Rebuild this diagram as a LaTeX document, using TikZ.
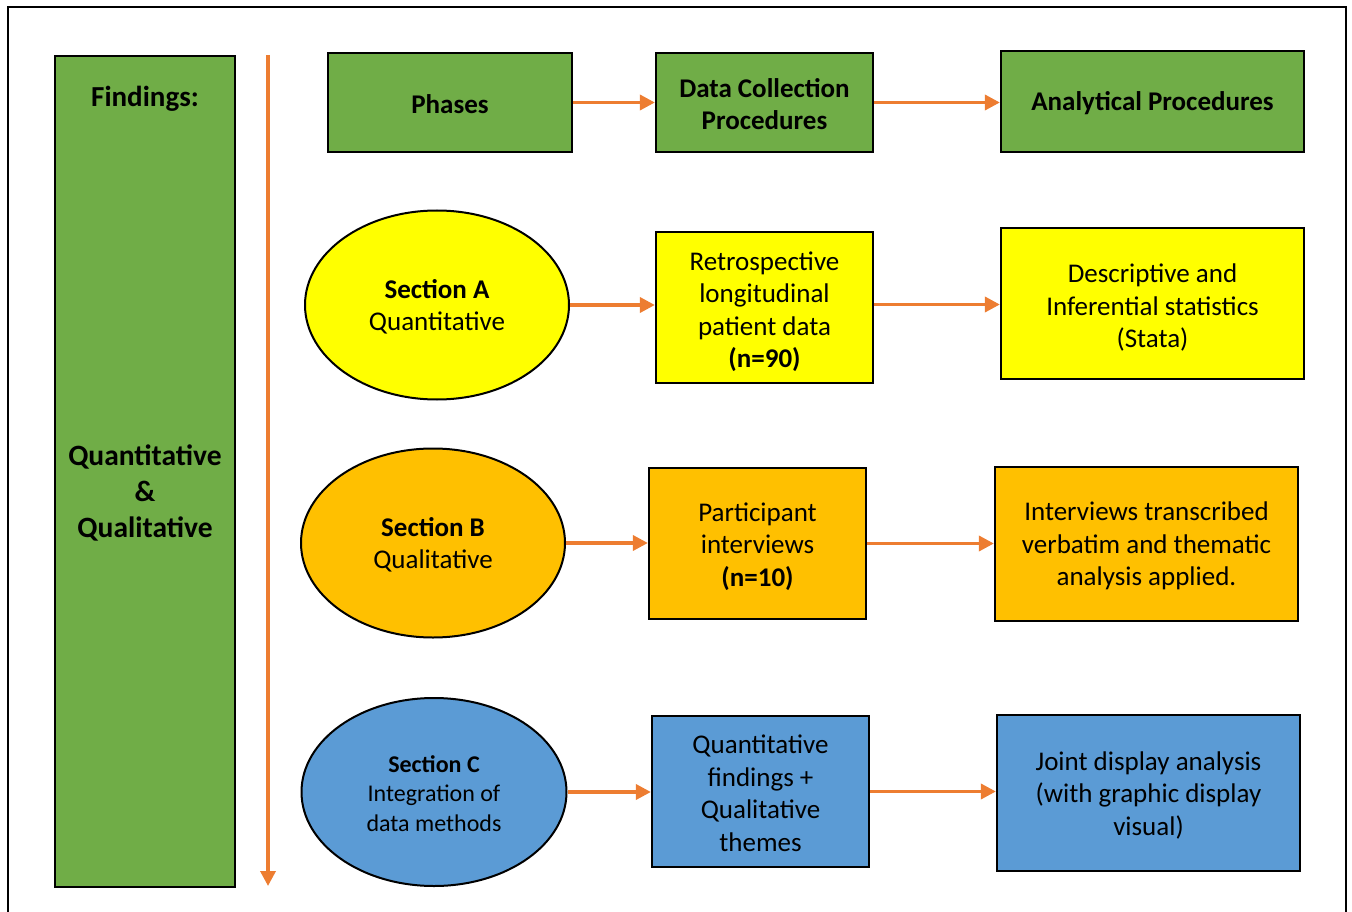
\documentclass[tikz,border=0pt]{standalone}
\usepackage{fontspec}
\setmainfont{Carlito}
\usetikzlibrary{shapes.geometric,arrows.meta}
\definecolor{cgreen}{HTML}{70AD47}
\definecolor{cyellow}{HTML}{FFFF00}
\definecolor{cgold}{HTML}{FFC000}
\definecolor{cblue}{HTML}{5B9BD5}
\definecolor{corange}{HTML}{ED7D31}
\tikzset{
  box/.style={draw=black, line width=2.2pt, inner sep=0pt},
  oval/.style={ellipse, draw=black, line width=2pt, inner sep=0pt},
  txt/.style={align=center, inner sep=0pt, font=\fontsize{27}{32.5}\selectfont},
  hdr/.style={align=center, inner sep=0pt, font=\fontsize{27}{32}\selectfont\bfseries},
  arr/.style={draw=corange, line width=3.5pt, -{Triangle[length=15pt,width=15pt]}},
}
\newcommand{\bx}[6]{% name, x1, y1, x2, y2, fill
  \path ({(#2+#4)/2},{(#3+#5)/2}) node[box, fill=#6, minimum width={(#4-#2)*1pt}, minimum height={(#5-#3)*1pt}] (#1) {};}
\begin{document}
\begin{tikzpicture}[x=1pt, y=-1pt]
\useasboundingbox (0,0) rectangle (1352,912);
% frame
\begin{scope}
\clip (0,0) rectangle (1352,912);
\draw[line width=1.8pt] (8,7) rectangle (1346,930);
\end{scope}

% left column
\bx{find}{55}{56}{235}{887}{cgreen}
\node[hdr, font=\fontsize{29}{36}\selectfont\bfseries] (findt) at (145,99) {Findings:};
\node[hdr, font=\fontsize{29.5}{36}\selectfont\bfseries] (findq) at (145,493) {Quantitative\\\&\\Qualitative};

% timeline
\coordinate (ts) at (268,55);
\coordinate (te) at (268,886);
\draw[arr] (ts) -- (te);

% header row
\bx{phases}{328}{53}{572}{152}{cgreen}
\node[hdr] at ([yshift=-2pt]phases) {Phases};
\bx{dcp}{656}{53}{873}{152}{cgreen}
\node[hdr] at ([yshift=-2pt]dcp) {Data Collection\\Procedures};
\bx{ap}{1001}{51}{1304}{152}{cgreen}
\node[hdr] at ([yshift=-2pt]ap) {Analytical Procedures};

% section A
\node[oval, fill=cyellow, minimum width=264pt, minimum height=189pt] (sa) at (437,305) {};
\node[txt] at ([yshift=-2pt]sa) {\textbf{Section A}\\Quantitative};
\bx{ra}{656}{232}{873}{383}{cyellow}
\node[txt] at ([yshift=-4pt]ra) {Retrospective\\longitudinal\\patient data\\\textbf{(n=90)}};
\bx{da}{1001}{228}{1304}{379}{cyellow}
\node[txt] at ([yshift=-4pt]da) {Descriptive and\\Inferential statistics\\(Stata)};

% section B
\node[oval, fill=cgold, minimum width=264pt, minimum height=189pt] (sb) at (433,543) {};
\node[txt] at ([yshift=-2pt]sb) {\textbf{Section B}\\Qualitative};
\bx{rb}{649}{468}{866}{619}{cgold}
\node[txt] at ([yshift=-3pt]rb) {Participant\\interviews\\\textbf{(n=10)}};
\bx{db}{995}{467}{1298}{621}{cgold}
\node[txt] at ([yshift=-2pt]db) {Interviews transcribed\\verbatim and thematic\\analysis applied.};

% section C
\node[oval, fill=cblue, minimum width=265pt, minimum height=188pt] (sc) at (434,792) {};
\node[txt, font=\fontsize{24}{29.5}\selectfont] at ([yshift=-1.5pt]sc) {\textbf{Section C}\\Integration of\\data methods};
\bx{rc}{652}{716}{869}{867}{cblue}
\node[txt] at ([yshift=-2pt]rc) {Quantitative\\findings +\\Qualitative\\themes};
\bx{dc}{997}{715}{1300}{871}{cblue}
\node[txt] at ([yshift=-2pt]dc) {Joint display analysis\\(with graphic display\\visual)};

% connectors
\draw[arr] (phases.east) -- (phases.east -| dcp.west);
\draw[arr] (dcp.east) -- (dcp.east -| ap.west);
\draw[arr] (sa.east) -- (sa.east -| ra.west);
\draw[arr] ([yshift=-1pt]da.west -| ra.east) -- ([yshift=-1pt]da.west);
\draw[arr] (sb.east) -- (sb.east -| rb.west);
\draw[arr] (rb.east) -- (rb.east -| db.west);
\draw[arr] (sc.east) -- (sc.east -| rc.west);
\draw[arr] (rc.east) -- (rc.east -| dc.west);
\end{tikzpicture}
\end{document}
